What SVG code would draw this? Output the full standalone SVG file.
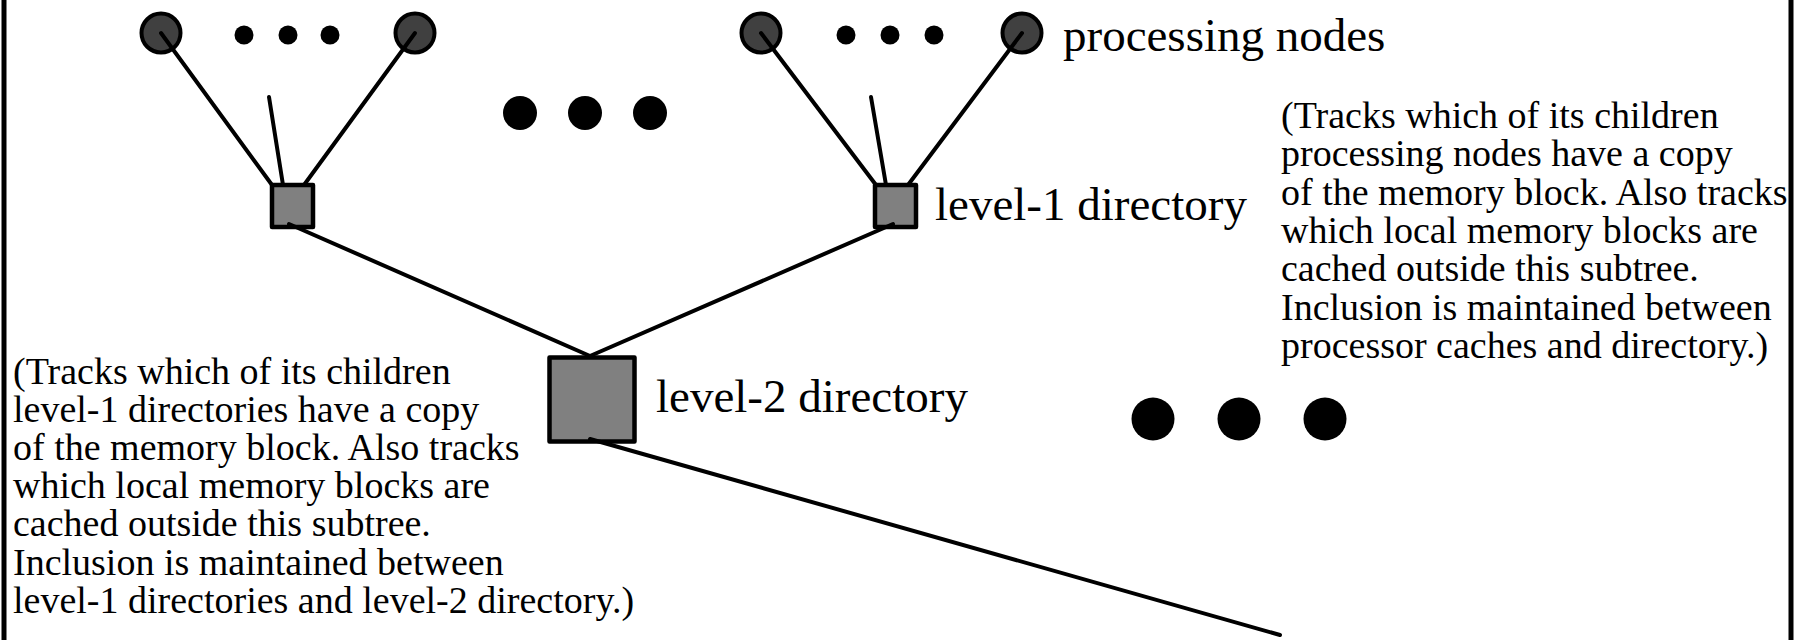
<svg xmlns="http://www.w3.org/2000/svg" width="1805" height="640" viewBox="0 0 1805 640">
<style>
.pn{fill:#404040;stroke:#000;stroke-width:4}
.dir{fill:#808080;stroke:#000;stroke-width:4.5;stroke-linejoin:round}
.dot{fill:#000}
.lbl{font-family:"Liberation Serif","Times New Roman",serif;font-size:47px;fill:#000}
.para{font-family:"Liberation Serif","Times New Roman",serif;font-size:38px;fill:#000}
#connectors line{stroke:#000;stroke-width:4;stroke-linecap:round}
</style>
<rect width="1805" height="640" fill="#fff"/>
<g id="frame" stroke="#000" stroke-width="5">
<line x1="4" y1="0" x2="4" y2="640"/>
<line x1="1791" y1="0" x2="1791" y2="640"/>
</g>
<g id="pn1"><circle class="pn" cx="161" cy="33" r="19.5"/></g>
<g id="pn2"><circle class="pn" cx="415" cy="33" r="19.5"/></g>
<g id="pn3"><circle class="pn" cx="761" cy="33" r="19.5"/></g>
<g id="pn4"><circle class="pn" cx="1022" cy="33" r="19.5"/></g>
<g id="dots-pn-left"><circle class="dot" cx="244" cy="35" r="9.5"/><circle class="dot" cx="288" cy="35" r="9.5"/><circle class="dot" cx="330" cy="35" r="9.5"/></g>
<g id="dots-pn-right"><circle class="dot" cx="846" cy="35" r="9.5"/><circle class="dot" cx="890" cy="35" r="9.5"/><circle class="dot" cx="934" cy="35" r="9.5"/></g>
<g id="dots-mid"><circle class="dot" cx="520" cy="113" r="17"/><circle class="dot" cx="585" cy="113" r="17"/><circle class="dot" cx="650" cy="113" r="17"/></g>
<g id="dots-right"><circle class="dot" cx="1153" cy="419" r="21.5"/><circle class="dot" cx="1239" cy="419" r="21.5"/><circle class="dot" cx="1325" cy="419" r="21.5"/></g>
<g id="l1-left"><rect class="dir" x="272" y="185" width="41" height="42"/></g>
<g id="l1-right"><rect class="dir" x="875" y="185" width="41" height="42"/></g>
<g id="l2"><rect class="dir" x="549.5" y="357.5" width="85" height="84"/></g>
<g id="connectors">
<line x1="161" y1="33" x2="272" y2="185"/>
<line x1="269" y1="97" x2="283" y2="185"/>
<line x1="415" y1="33" x2="304" y2="185"/>
<line x1="761" y1="33" x2="876" y2="185"/>
<line x1="871" y1="97" x2="886" y2="185"/>
<line x1="1022" y1="33" x2="908" y2="185"/>
<line x1="289" y1="224" x2="590" y2="356"/>
<line x1="893" y1="224" x2="590" y2="356"/>
<line x1="590" y1="439" x2="1280" y2="635"/>
</g>
<g id="labels">
<text class="lbl" x="1063" y="51" font-size="48.5">processing nodes</text>
<text class="lbl" x="935" y="220">level-1 directory</text>
<text class="lbl" x="656" y="412">level-2 directory</text>
</g>
<g id="note-l1">
<text class="para" x="1281" y="128">(Tracks which of its children</text>
<text class="para" x="1281" y="166">processing nodes have a copy</text>
<text class="para" x="1281" y="205">of the memory block. Also tracks</text>
<text class="para" x="1281" y="243">which local memory blocks are</text>
<text class="para" x="1281" y="281">cached outside this subtree.</text>
<text class="para" x="1281" y="320">Inclusion is maintained between</text>
<text class="para" x="1281" y="358">processor caches and directory.)</text>
</g>
<g id="note-l2">
<text class="para" x="13" y="384">(Tracks which of its children</text>
<text class="para" x="13" y="422">level-1 directories have a copy</text>
<text class="para" x="13" y="460">of the memory block. Also tracks</text>
<text class="para" x="13" y="498">which local memory blocks are</text>
<text class="para" x="13" y="536">cached outside this subtree.</text>
<text class="para" x="13" y="575">Inclusion is maintained between</text>
<text class="para" x="13" y="613">level-1 directories and level-2 directory.)</text>
</g>
</svg>
